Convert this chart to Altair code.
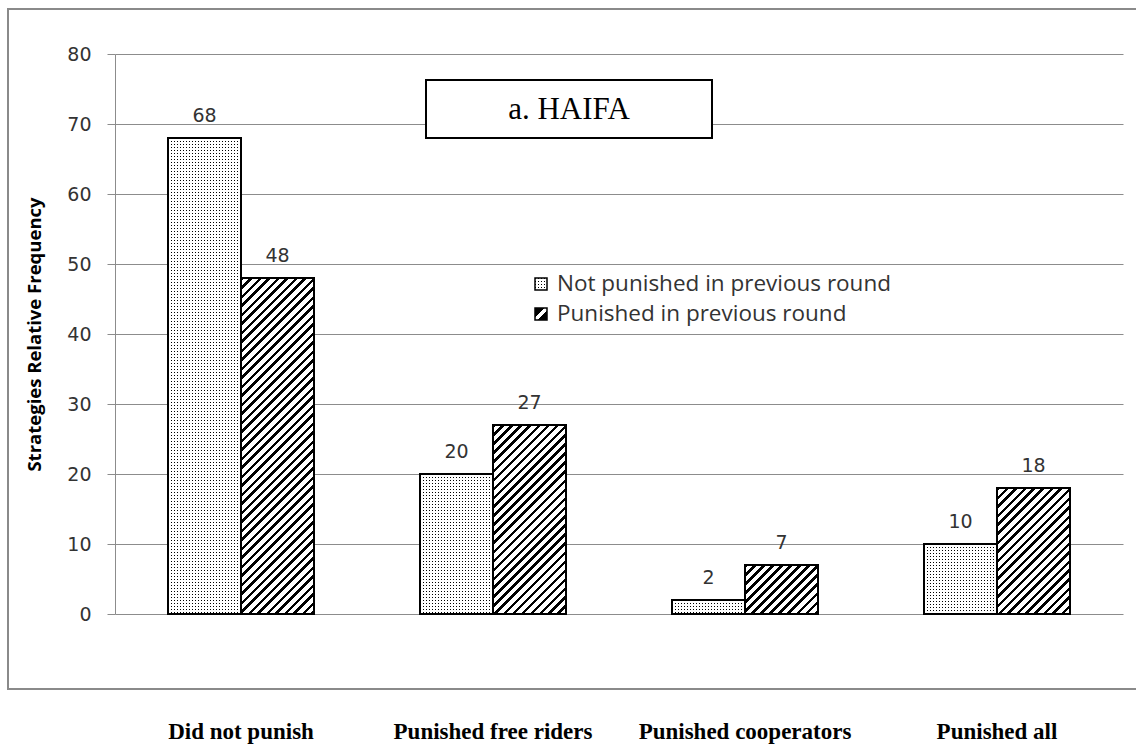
import altair as alt
import pandas as pd

# ---- data ---------------------------------------------------------------
categories = ["Did not punish", "Punished free riders", "Punished cooperators", "Punished all"]
series = ["Not punished in previous round", "Punished in previous round"]
not_punished = [68, 20, 2, 10]
punished = [48, 27, 7, 18]
y_ticks = [0, 10, 20, 30, 40, 50, 60, 70, 80]
panel_title = "a. HAIFA"
y_title = "Strategies Relative Frequency"

records = []
for cat, a, b in zip(categories, not_punished, punished):
    records.append({"strategy": cat, "group": series[0], "value": a})
    records.append({"strategy": cat, "group": series[1], "value": b})
df = pd.DataFrame(records)

# ---- geometry / style ---------------------------------------------------
# sizes chosen so that bar edges land on whole pixels (crisp fill patterns)
STEP, BAND = 252, 146
W, H = STEP * len(categories), 560
Y_MAX = y_ticks[-1]
PAD_INNER = (STEP - BAND) / STEP
PAD_OUTER = PAD_INNER / 2
BAR_W = BAND / len(series)

GRID = "#8c8c8c"
TEXT = "#333333"
CLEAR = "rgba(255,255,255,0)"

DOT_PERIOD, DOT_SIZE = 3.0, 1.0       # stipple fill
HATCH_PERIOD, HATCH_LINE = 9.0, 3.6   # diagonal hatch fill


def stop(offset, color):
    return alt.GradientStop(offset=round(max(0.0, min(1.0, offset)), 5), color=color)


def stripe_stops(span, period, first_len, first_color, second_color):
    """Hard-edged repeating stripes along a gradient of length `span` px."""
    stops = []
    k = 0
    while k * period < span:
        a = k * period / span
        b = (k * period + first_len) / span
        c = (k + 1) * period / span
        stops += [stop(a, first_color), stop(b, first_color),
                  stop(b, second_color), stop(c, second_color)]
        k += 1
    return stops


def columns_fill(w):
    # white columns with clear gaps, sized in pixels over a box of width w
    return alt.LinearGradient(gradient="linear", x1=0, y1=0, x2=1, y2=0,
                              stops=stripe_stops(w, DOT_PERIOD, DOT_SIZE, CLEAR, "white"))


def rows_fill(h):
    return alt.LinearGradient(gradient="linear", x1=0, y1=0, x2=0, y2=1,
                              stops=stripe_stops(h, DOT_PERIOD, DOT_SIZE, CLEAR, "white"))


def hatch_fill(w, h):
    # 45-degree "/" lines: the gradient vector is scaled by the box so the
    # stripes stay at 45 degrees whatever the bar's aspect ratio, and it
    # reaches the far corner (x + y = w + h)
    c = (w + h) / (w * w + h * h)
    return alt.LinearGradient(gradient="linear", x1=0, y1=0, x2=w * c, y2=h * c,
                              stops=stripe_stops(w + h, HATCH_PERIOD, HATCH_LINE, "black", "white"))


def bar_height(v):
    return v / Y_MAX * H


# ---- shared encodings ---------------------------------------------------
base = alt.Chart(df).encode(
    x=alt.X(
        "strategy:N",
        scale=alt.Scale(domain=categories, paddingInner=PAD_INNER, paddingOuter=PAD_OUTER),
        axis=alt.Axis(title=None, labelAngle=0, labelFont="Liberation Serif",
                      labelFontWeight="bold", labelFontSize=23, labelColor="black",
                      labelPadding=106, ticks=False, domain=False, grid=False,
                      labelLimit=400),
    ),
    xOffset=alt.XOffset("group:N", scale=alt.Scale(domain=series, paddingInner=0, paddingOuter=0)),
    y=alt.Y(
        "value:Q",
        scale=alt.Scale(domain=[0, Y_MAX], nice=False),
        axis=alt.Axis(values=y_ticks, title=y_title, titleFont="Open Sans",
                      titleFontWeight="bold", titleFontSize=18.5, titleColor="black",
                      titleX=-81, titleY=H / 2, titleBaseline="middle",
                      labelFont="DejaVu Sans", labelFontSize=19, labelColor=TEXT,
                      labelPadding=16, tickSize=8, tickColor=GRID, tickWidth=1,
                      domainColor=GRID, domainWidth=1, grid=True, gridColor=GRID,
                      gridWidth=1),
    ),
)

layers = []

# outer frame around the plotting region
frame = alt.Chart(pd.DataFrame({"k": [0]})).mark_rect(
    fillOpacity=0, stroke="#8a8a8a", strokeWidth=2
).encode(x=alt.value(-107), x2=alt.value(1030), y=alt.value(-45), y2=alt.value(635))
layers.append(frame)

# stipple bars: dark base, then white columns and white rows leave dots
first = base.transform_filter(alt.datum.group == series[0])
layers.append(first.mark_bar(fill="#000000", strokeWidth=0))
layers.append(first.mark_bar(fill=columns_fill(BAR_W), strokeWidth=0))
for cat, v in zip(categories, not_punished):
    one = base.transform_filter(
        (alt.datum.strategy == cat) & (alt.datum.group == series[0]))
    layers.append(one.mark_bar(fill=rows_fill(bar_height(v)), strokeWidth=0))

# hatched bars
for cat, v in zip(categories, punished):
    one = base.transform_filter(
        (alt.datum.strategy == cat) & (alt.datum.group == series[1]))
    layers.append(one.mark_bar(fill=hatch_fill(BAR_W, bar_height(v)), strokeWidth=0))

# bar outlines
layers.append(base.mark_bar(fillOpacity=0, stroke="black", strokeWidth=2))

# value labels
layers.append(base.mark_text(dy=-22, baseline="middle", font="DejaVu Sans",
                             fontSize=19, color=TEXT).encode(text="value:Q"))

# panel title box
title_df = pd.DataFrame({"t": [panel_title]})
layers.append(alt.Chart(title_df).mark_rect(fill="white", stroke="black", strokeWidth=2).encode(
    x=alt.value(311), x2=alt.value(597), y=alt.value(26), y2=alt.value(84)))
layers.append(alt.Chart(title_df).mark_text(font="Liberation Serif", fontSize=31,
                                            color="black", align="center",
                                            baseline="alphabetic").encode(
    x=alt.value(454), y=alt.value(65), text="t:N"))

# legend
SYM = 12
for i, label in enumerate(series):
    ly = 224 + 30 * i
    sym = alt.Chart(pd.DataFrame({"label": [label]}))
    pos = dict(x=alt.value(420), x2=alt.value(420 + SYM), y=alt.value(ly), y2=alt.value(ly + SYM))
    if i == 0:
        layers.append(sym.mark_rect(fill="#000000").encode(**pos))
        layers.append(sym.mark_rect(fill=columns_fill(SYM)).encode(**pos))
        layers.append(sym.mark_rect(fill=rows_fill(SYM)).encode(**pos))
    else:
        diag = alt.LinearGradient(gradient="linear", x1=0, y1=0, x2=1, y2=1, stops=[
            stop(0, "black"), stop(0.38, "black"), stop(0.38, "white"),
            stop(0.62, "white"), stop(0.62, "black"), stop(1, "black")])
        layers.append(sym.mark_rect(fill=diag).encode(**pos))
    layers.append(sym.mark_rect(fillOpacity=0, stroke="black", strokeWidth=1.5).encode(**pos))
    layers.append(sym.mark_text(align="left", baseline="middle", font="Open Sans",
                                fontSize=22.5, color=TEXT).encode(
        x=alt.value(442), y=alt.value(ly + SYM / 2), text="label:N"))

chart = alt.layer(*layers).properties(
    width=W,
    height=H,
    padding={"left": 115, "top": 54, "right": 1136 - 115 - W, "bottom": 747 - 54 - H},
    autosize=alt.AutoSizeParams(type="none"),
    background="white",
).configure_view(strokeWidth=0)

chart.save("out.html", embed_options={"renderer": "svg", "actions": False})
